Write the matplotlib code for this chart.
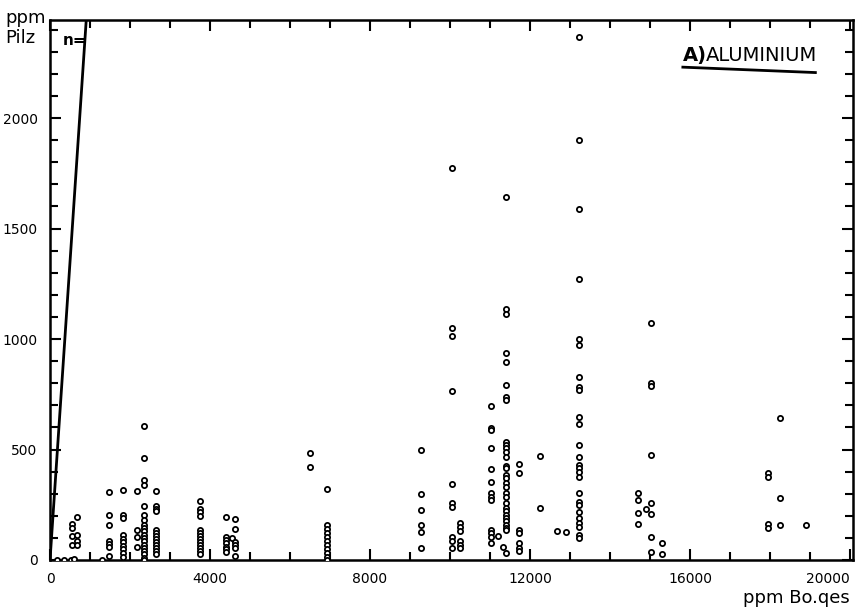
import matplotlib.pyplot as plt
from matplotlib.ticker import MultipleLocator

# Aluminium: soil content (ppm Boden ges.) vs. fungus content (ppm Pilz)
boden_x = [175, 350, 525, 600, 1300] \
    + [550] * 4 + [675] * 4 + [1475] * 7 + [1825] * 10 + [2175] * 4 \
    + [2350] * 19 + [2650] * 13 + [3750] * 13 + [4400] * 7 + [4550] \
    + [4625] * 6 + [6500] * 2 + [6925] * 11 + [9275] * 6 + [10050] * 10 \
    + [10250] * 6 + [11025] * 13 + [11190, 11325, 11390] + [11400] * 30 \
    + [11725] * 7 + [12250] * 2 + [12675, 12900] + [13225] * 26 \
    + [14700] * 4 + [14900] + [15025] * 8 + [15300] * 2 + [17950] * 4 \
    + [18250] * 3 + [18900]

pilz_y = [0, 0, 0, 5, 0,
          165, 145, 110, 70,
          195, 115, 85, 70,
          308, 204, 158, 86, 72, 60, 18,
          317, 204, 190, 113, 97, 81, 63, 48, 32, 14,
          312, 136, 104, 59,
          606, 462, 362, 339, 244, 204, 181, 158, 145, 130, 115, 100, 85, 70, 55, 40, 25, 10, 0,
          312, 244, 232, 220, 136, 122, 108, 95, 81, 68, 54, 40, 27,
          267, 231, 217, 199, 136, 122, 109, 95, 81, 68, 54, 41, 27,
          195, 104, 90, 75, 60, 48, 36,
          100,
          186, 140, 81, 68, 54, 18,
          484, 421,
          321, 158, 140, 122, 104, 86, 68, 50, 32, 14, 0,
          498, 297, 226, 157, 128, 54,
          1774, 1048, 1015, 766, 342, 256, 240, 104, 86, 53,
          169, 148, 130, 87, 70, 55,
          697, 599, 588, 505, 410, 354, 302, 287, 272, 136, 121, 106, 75,
          110, 60, 30,
          1643, 1135, 1115, 936, 897, 792, 739, 724, 535, 520, 507, 490, 468, 425, 415,
          385, 370, 350, 332, 302, 287, 258, 235, 220, 205, 190, 175, 160, 145, 136,
          434, 395, 136, 121, 78, 53, 40,
          471, 237,
          130, 125,
          2367, 1900, 1589, 1271, 1000, 975, 830, 781, 769, 649, 614, 520, 468, 430,
          415, 400, 377, 305, 264, 249, 216, 189, 169, 151, 113, 98,
          302, 271, 211, 163,
          231,
          1072, 800, 789, 477, 259, 210, 103, 35,
          75, 27,
          392, 377, 163, 143,
          644, 282, 158,
          158]

# steep reference line through the origin
line_x = [0, 905]
line_y = [0, 2443]

x_ticks = [0, 4000, 8000, 12000, 16000, 20000]
y_ticks = [0, 500, 1000, 1500, 2000]

fig = plt.figure(figsize=(8.58, 6.12), dpi=100)
ax = fig.add_axes([0.0583, 0.085, 0.936, 0.882])

ax.scatter(boden_x, pilz_y, s=14, facecolors='white', edgecolors='black',
           linewidths=1.3, zorder=3)
ax.plot(line_x, line_y, color='black', lw=2, zorder=2)

ax.set_xlim(0, 20075)
ax.set_ylim(0, 2443)

ax.set_xticks(x_ticks)
ax.set_yticks(y_ticks)
ax.xaxis.set_minor_locator(MultipleLocator(1000))
ax.yaxis.set_minor_locator(MultipleLocator(100))
ax.tick_params(which='both', direction='in', top=True, right=True,
               width=1.5, labelsize=10, pad=9)
ax.tick_params(which='major', length=8)
ax.tick_params(which='minor', length=6)
for lbl in ax.get_xticklabels():
    if lbl.get_text() == '20000':
        lbl.set_horizontalalignment('right')
for sp in ax.spines.values():
    sp.set_linewidth(1.8)

# axis captions
fig.text(0.006, 0.985, 'ppm\nPilz', ha='left', va='top', fontsize=13,
         linespacing=1.1)
fig.text(0.99, 0.008, 'ppm Bo.qes', ha='right', va='bottom', fontsize=13)

# sample count marker near the line
ax.text(325, 2353, 'n=', fontsize=11, fontweight='bold', va='center')

# panel title
ax.text(0.955, 0.925, 'ALUMINIUM', transform=ax.transAxes, fontsize=14,
        ha='right', va='baseline')
ax.text(0.818, 0.925, 'A)', transform=ax.transAxes, fontsize=14,
        fontweight='bold', ha='right', va='baseline')
ax.plot([0.788, 0.953], [0.913, 0.903], transform=ax.transAxes,
        color='black', lw=2, clip_on=False)

fig.savefig('out.png', dpi=100)
